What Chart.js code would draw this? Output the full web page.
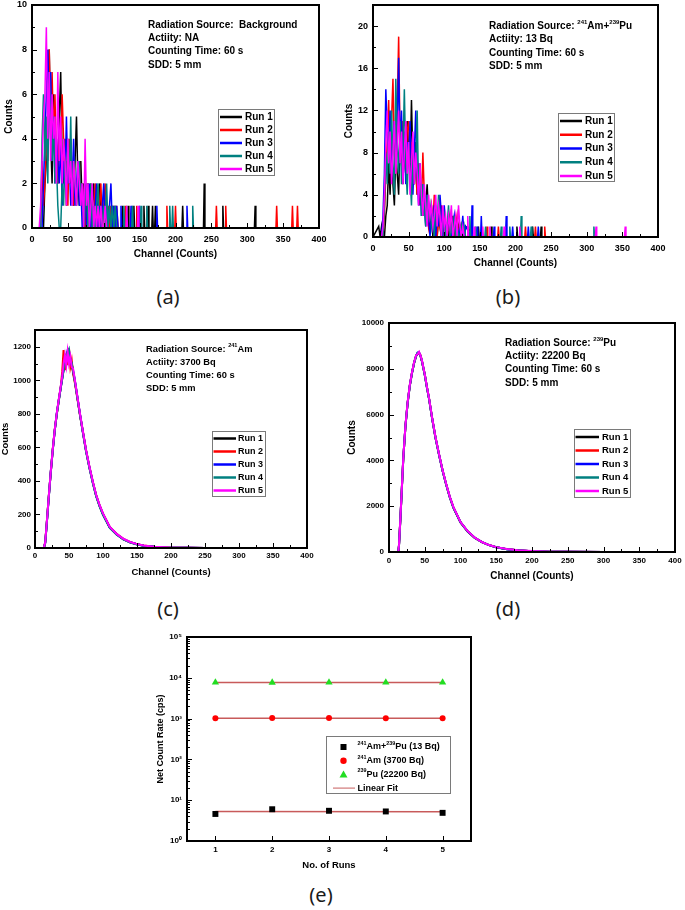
<!DOCTYPE html>
<html lang="en">
<head>
<meta charset="UTF-8">
<title>Detector spectra and count rates</title>
<script src="https://cdn.jsdelivr.net/npm/chart.js"></script>
<style>
  html, body { margin: 0; padding: 0; background: #fff; }
  #page { position: relative; width: 685px; height: 910px; overflow: hidden; }
  canvas { position: absolute; }
  .cap { position: absolute; font-family: 'Noto Sans', sans-serif; font-size: 20px; color: #1a1a1a; transform: translate(-50%, -50%); }
</style>
</head>
<body>
<div id="page">
  <canvas id="chartA" width="330" height="262" style="left:0px;top:0px"></canvas>
  <canvas id="chartB" width="340" height="270" style="left:340px;top:0px"></canvas>
  <canvas id="chartC" width="320" height="262" style="left:0px;top:318px"></canvas>
  <canvas id="chartD" width="340" height="272" style="left:345px;top:313px"></canvas>
  <canvas id="chartE" width="340" height="250" style="left:145px;top:625px"></canvas>
  <div class="cap" style="left:168px;top:296px">(a)</div>
  <div class="cap" style="left:508px;top:296px">(b)</div>
  <div class="cap" style="left:168px;top:608px">(c)</div>
  <div class="cap" style="left:508px;top:608px">(d)</div>
  <div class="cap" style="left:321px;top:894px">(e)</div>
</div>

<script>
  const FONT = "'Liberation Sans', Arial, sans-serif";
  const runNames = ['Run 1', 'Run 2', 'Run 3', 'Run 4', 'Run 5'];
  const runColors = ['#000000', '#ff0000', '#0000ff', '#008080', '#ff00ff'];
  const channelTicks = [0, 50, 100, 150, 200, 250, 300, 350, 400];

  // (a) background: counts every 2 channels from channel 10, then isolated counts [channel, counts]
  const bgStart = 10, bgStep = 2;
  const bgRun1 = [0,0,0,0,2,3,5,8,4,2, 6,3,4,2,5,7,3,2,4,1, 3,2,4,2,1,3,5,2,1,3, 1,2,0,1,2,1,0,1,2,0, 1,0,2,1,0,1,0,1,0,1, 0,1,0,1,0,0];
  const bgRun2 = [0,0,3,1,2,4,3,8,5,7, 4,6,3,2,4,3,6,4,2,3, 1,4,2,3,1,2,1,2,3,1, 2,1,0,2,1,0,2,1,0,2, 1,0,1,2,0,1,2,0,1,0, 1,0,1,0,1,0];
  const bgRun3 = [0,0,0,2,4,6,8,5,7,3, 5,2,4,3,2,4,1,3,2,5, 2,3,1,2,4,1,2,3,1,2, 0,1,2,0,1,2,0,1,0,1, 2,0,1,0,1,2,0,1,0,1, 2,0,1,0,1,0];
  const bgRun4 = [0,0,4,6,3,5,2,7,4,3, 5,2,3,1,0,0,2,1,3,2, 4,2,5,1,3,2,1,2,3,1, 2,0,1,2,0,1,2,0,1,0, 1,2,0,1,0,1,0,2,0,1, 0,1,0,1,0,0];
  const bgRun5 = [0,1,3,5,6,9,4,7,3,6, 4,5,2,7,3,5,2,4,3,1, 4,2,3,1,3,2,1,3,2,1, 2,0,4,1,2,0,1,2,0,1, 0,1,0,1,0,0,1,0,0,0, 0,0,0,0,0,0];
  const bgTail1 = [[126,1],[134,1],[142,1],[156,1],[162,1],[168,1],[172,1],[210,1],[240,2],[266,1],[311,1]];
  const bgTail2 = [[130,1],[146,1],[188,1],[200,1],[257,1],[270,1],[341,1],[363,1],[370,1]];
  const bgTail3 = [[124,1],[138,1],[150,1],[174,1],[216,1]];
  const bgTail4 = [[128,1],[140,1],[152,1],[160,1],[192,1],[196,1],[224,1]];
  const bgTail5 = [[132,1],[148,1]];

  // (b) 241Am+239Pu, 13 Bq: counts every 2 channels from channel 8
  const mixStart = 8, mixStep = 2;
  const mixRun1 = [1,0,1,0,0,2,3,7,4,9, 5,3,8,6,4,10,7,5,9,6, 11,8,6,13,7,5,9,4,6,3, 5,2,4,3,5,2,1,3,0,2, 1,0,2,1,0,1,2,0,1,0, 1,0,2,0,1,0,1,0,1,0, 0,1];
  const mixRun2 = [0,0,0,0,2,6,9,13,7,11, 15,8,6,12,19,9,7,11,8,6, 10,11,7,9,5,8,6,4,7,5, 3,8,4,2,3,1,2,3,1,4, 2,0,2,1,3,0,2,1,0,1, 2,0,1,0,1,2,0,1,0,1, 0,0];
  const mixRun3 = [0,0,0,2,6,14,10,8,12,6, 9,11,7,10,17,8,12,6,10,5, 9,7,11,6,4,8,12,6,3,7, 2,5,3,1,4,2,0,2,1,3, 0,2,1,4,2,0,3,1,0,2, 1,0,1,2,0,1,0,1,0,2, 0,1];
  const mixRun4 = [0,0,0,0,3,8,5,10,6,12, 7,4,15,9,6,11,5,8,14,7, 4,9,6,3,8,5,7,12,4,6, 2,5,3,1,4,2,3,1,2,0, 3,1,4,2,0,1,2,0,1,3, 0,1,0,2,0,1,0,0,1,0, 1,0];
  const mixRun5 = [0,0,0,1,4,9,12,7,10,5, 8,11,6,9,12,7,10,5,8,11, 6,9,4,7,10,5,8,6,3,7, 4,2,5,3,1,4,2,3,1,2, 4,1,3,2,0,3,1,2,0,2, 1,3,0,1,2,0,3,1,0,1, 0,0];
  const mixTail1 = [[148,1],[166,1],[202,1],[224,1],[236,1]];
  const mixTail2 = [[134,1],[160,1],[176,1],[214,1],[228,1],[241,1]];
  const mixTail3 = [[139,3],[146,1],[152,2],[170,1],[187,2],[196,1],[218,1],[232,1]];
  const mixTail4 = [[136,2],[144,1],[158,1],[180,1],[192,1],[208,2],[222,1],[310,1]];
  const mixTail5 = [[133,2],[142,1],[154,1],[164,1],[184,1],[206,1],[313,1],[354,1]];

  // (c) 241Am, 3700 Bq
  const amCh = [0,13,15,17,20,23,26,29,32,35,38,40,42,44,46,48,50,52,54,56,58,60,63,66,70,75,80,85,90,95,100,110,120,130,140,150,160,175,190,200,225,250,400];
  const amRun1 = [0,0,30,130,290,445,580,700,800,885,960,1010,1065,1110,1150,1170,1140,1120,1100,1050,1010,960,880,800,700,580,480,390,310,250,200,122,80,52,34,22,14,7,3,2,1,0,0];
  const amRun2 = [0,0,35,135,295,440,585,705,795,880,965,1050,1180,1060,1160,1090,1190,1080,1120,1040,1000,950,875,795,705,585,485,395,315,255,205,125,85,55,35,23,15,8,4,2,1,0,0];
  const amRun3 = [0,0,30,128,288,442,578,698,802,882,958,1012,1062,1120,1140,1180,1150,1130,1090,1060,1015,962,882,802,702,582,482,392,312,252,202,122,82,53,34,22,14,7,3,2,1,0,0];
  const amRun4 = [0,0,32,132,292,446,582,702,798,878,962,1008,1058,1108,1145,1165,1185,1125,1105,1055,1012,958,878,798,698,578,478,388,308,248,198,120,80,52,33,21,13,7,3,2,1,0,0];
  const amRun5 = [0,0,34,134,294,448,584,704,804,888,968,1020,1100,1150,1090,1170,1100,1140,1080,1070,1020,966,886,806,706,586,486,396,316,256,206,126,84,55,36,23,15,8,4,2,1,0,0];

  // (d) 239Pu, 22200 Bq
  const puCh = [0,5,13,14,16,18,20,23,26,29,32,35,38,40,42,44,46,48,50,53,56,60,65,70,75,80,85,90,100,110,120,130,140,150,165,180,200,225,250,300,400];
  const puRun1 = [0,0,0,280,1480,2780,4080,5480,6480,7230,7780,8230,8560,8650,8720,8560,8330,8030,7740,7190,6690,5890,4990,4240,3540,2940,2390,1940,1290,895,615,428,298,208,124,74,37,15,6,1,0];
  const puRun2 = [0,0,0,310,1510,2810,4110,5510,6510,7260,7810,8260,8590,8690,8680,8600,8360,8060,7760,7210,6710,5910,5010,4260,3560,2960,2410,1960,1305,905,622,432,302,211,126,76,38,15,6,1,0];
  const puRun3 = [0,0,0,300,1500,2800,4100,5500,6500,7250,7800,8250,8580,8710,8700,8580,8350,8050,7750,7200,6700,5900,5000,4250,3550,2950,2400,1950,1300,900,620,430,300,210,125,75,38,15,6,1,0];
  const puRun4 = [0,0,0,295,1495,2795,4095,5495,6495,7245,7795,8245,8575,8700,8695,8575,8345,8045,7745,7195,6695,5895,4995,4245,3545,2945,2395,1945,1298,898,618,429,299,209,125,75,38,15,6,1,0];
  const puRun5 = [0,0,0,320,1520,2820,4120,5520,6520,7270,7820,8270,8600,8640,8740,8590,8370,8070,7770,7220,6720,5920,5020,4270,3570,2970,2420,1970,1310,910,625,435,303,212,127,76,39,16,6,1,0];

  // (e) net count rate per run (cps)
  const runNo = [1, 2, 3, 4, 5];
  const rateMix = [4.6, 6.0, 5.5, 5.3, 4.9];
  const rateAm = [1025, 1030, 1030, 1025, 1025];
  const ratePu = [7700, 7650, 7700, 7680, 7700];
  const fitX = [1, 5];
  const fitMix = [5.3, 5.2];
  const fitAm = [1027, 1027];
  const fitPu = [7690, 7690];
  const logTicks = [1, 10, 100, 1000, 10000, 100000];
  const SUP = ['⁰', '¹', '²', '³', '⁴', '⁵'];

  // ---------- helpers ----------
  function spectrum(start, step, dense, tail) {
    const pts = [{x: 0, y: 0}];
    dense.forEach((v, i) => pts.push({x: start + i * step, y: v}));
    tail.forEach(([c, n]) => pts.push({x: c - 1, y: 0}, {x: c, y: n}, {x: c + 1, y: 0}));
    pts.push({x: 400, y: 0});
    return pts;
  }
  function curve(ch, vals) {
    return ch.map((c, i) => ({x: c, y: vals[i]}));
  }
  function runSets(series, width) {
    return series.map((pts, i) => ({
      label: runNames[i], data: pts, borderColor: runColors[i], borderWidth: width,
      pointRadius: 0, fill: false, tension: 0, order: series.length - 1 - i
    }));
  }

  function axis(o) {
    return {
      type: o.type || 'linear', min: o.min, max: o.max,
      grid: {display: false, drawTicks: false},
      border: {display: false},
      ticks: {
        color: '#000', autoSkip: false, maxRotation: 0, padding: o.tickPad,
        font: {family: FONT, size: o.tickSize, weight: 'bold'},
        callback: o.fmt || (v => String(v))
      },
      title: {
        display: true, text: o.title, color: '#000', padding: o.titlePad,
        font: {family: FONT, size: o.titleSize, weight: 'bold'}
      },
      afterBuildTicks: s => { s.ticks = o.ticks.map(v => ({value: v})); },
      afterFit: s => {
        if (o.width != null) s.width = o.width;
        if (o.height != null) s.height = o.height;
        s.paddingLeft = s.paddingRight = s.paddingTop = s.paddingBottom = 0;
      }
    };
  }

  function richText(ctx, segs, x, y, size) {
    ctx.fillStyle = '#000';
    ctx.textBaseline = 'middle';
    ctx.textAlign = 'left';
    segs.forEach(s => {
      const sup = typeof s === 'object';
      const txt = sup ? s.sup : s;
      const fs = sup ? size * 0.6 : size;
      ctx.font = 'bold ' + fs + 'px ' + FONT;
      ctx.fillText(txt, x, sup ? y - size * 0.38 : y);
      x += ctx.measureText(txt).width;
    });
  }

  // box frame with inward ticks on bottom and left axes
  function frame(cfg) {
    return {
      id: 'frame',
      afterDatasetsDraw(chart) {
        const {ctx, chartArea: a, scales: {x, y}} = chart;
        ctx.save();
        ctx.strokeStyle = '#000';
        ctx.lineWidth = 1;
        const xv = x.ticks.map(t => t.value), yv = y.ticks.map(t => t.value);
        const mark = (px, len, horiz) => {
          ctx.beginPath();
          if (horiz) { ctx.moveTo(px, a.bottom); ctx.lineTo(px, a.bottom - len); }
          else { ctx.moveTo(a.left, px); ctx.lineTo(a.left + len, px); }
          ctx.stroke();
        };
        xv.forEach(v => mark(Math.round(x.getPixelForValue(v)) + 0.5, 5, true));
        if (cfg.xMinor) xv.slice(1).forEach((v, i) => mark(Math.round(x.getPixelForValue((v + xv[i]) / 2)) + 0.5, 3, true));
        yv.forEach(v => mark(Math.round(y.getPixelForValue(v)) + 0.5, 5, false));
        if (cfg.yMinor === 'mid') yv.slice(1).forEach((v, i) => mark(Math.round(y.getPixelForValue((v + yv[i]) / 2)) + 0.5, 3, false));
        if (cfg.yMinor === 'log') yv.slice(0, -1).forEach(v => {
          for (let m = 2; m < 10; m++) mark(Math.round(y.getPixelForValue(v * m)) + 0.5, 3, false);
        });
        ctx.lineWidth = 2;
        ctx.strokeRect(a.left, a.top, a.right - a.left, a.bottom - a.top);
        ctx.restore();
      }
    };
  }

  function note(lines, cfg) {
    return {
      id: 'note',
      afterDatasetsDraw(chart) {
        const {ctx, chartArea: a} = chart;
        ctx.save();
        lines.forEach((segs, i) => richText(ctx, segs, a.left + cfg.dx, a.top + cfg.dy + i * cfg.gap, cfg.size));
        ctx.restore();
      }
    };
  }

  function key(items, cfg) {
    return {
      id: 'key',
      afterDatasetsDraw(chart) {
        const {ctx, chartArea: a} = chart;
        const bx = a.left + cfg.dx, by = a.top + cfg.dy;
        ctx.save();
        ctx.fillStyle = '#fff';
        ctx.fillRect(bx, by, cfg.w, cfg.h);
        ctx.strokeStyle = '#7a7a7a';
        ctx.lineWidth = 1;
        ctx.strokeRect(Math.round(bx) + 0.5, Math.round(by) + 0.5, cfg.w, cfg.h);
        items.forEach((it, i) => {
          const ry = by + cfg.row0 + i * cfg.gap;
          ctx.fillStyle = it.color;
          ctx.strokeStyle = it.color;
          if (it.mark === 'line') {
            ctx.lineWidth = it.width || 2.5;
            ctx.beginPath(); ctx.moveTo(bx + cfg.l0, ry); ctx.lineTo(bx + cfg.l1, ry); ctx.stroke();
          } else if (it.mark === 'rect') {
            ctx.fillRect(bx + cfg.mx - 3, ry - 3, 6, 6);
          } else if (it.mark === 'circle') {
            ctx.beginPath(); ctx.arc(bx + cfg.mx, ry, 3.2, 0, Math.PI * 2); ctx.fill();
          } else if (it.mark === 'triangle') {
            ctx.beginPath(); ctx.moveTo(bx + cfg.mx, ry - 4); ctx.lineTo(bx + cfg.mx + 4, ry + 3); ctx.lineTo(bx + cfg.mx - 4, ry + 3); ctx.closePath(); ctx.fill();
          }
          richText(ctx, it.text, bx + cfg.tx, ry, cfg.size);
        });
        ctx.restore();
      }
    };
  }

  const runKey = runNames.map((n, i) => ({text: [n], color: runColors[i], mark: 'line'}));
  const baseOpts = (pad) => ({
    responsive: false, animation: false, events: [],
    layout: {padding: pad},
    plugins: {legend: {display: false}, tooltip: {enabled: false}}
  });

  // ---------- (a) ----------
  new Chart(document.getElementById('chartA'), {
    type: 'line',
    data: {datasets: runSets([
      spectrum(bgStart, bgStep, bgRun1, bgTail1), spectrum(bgStart, bgStep, bgRun2, bgTail2),
      spectrum(bgStart, bgStep, bgRun3, bgTail3), spectrum(bgStart, bgStep, bgRun4, bgTail4),
      spectrum(bgStart, bgStep, bgRun5, bgTail5)], 1.5)},
    options: Object.assign(baseOpts({top: 5, right: 11, left: 0, bottom: 0}), {
      scales: {
        x: axis({min: 0, max: 400, ticks: channelTicks, title: 'Channel (Counts)', tickSize: 9, tickPad: 6, titleSize: 10, titlePad: {top: 0, bottom: 2}, height: 34}),
        y: axis({min: 0, max: 10, ticks: [0, 2, 4, 6, 8, 10], title: 'Counts', tickSize: 9, tickPad: 5, titleSize: 10, titlePad: {top: 3, bottom: 0}, width: 32})
      }
    }),
    plugins: [frame({xMinor: true, yMinor: 'mid'}),
      note([['Radiation Source:  Background'], ['Actiity: NA'], ['Counting Time: 60 s'], ['SDD: 5 mm']], {dx: 116, dy: 20, gap: 13.3, size: 10}),
      key(runKey, {dx: 186, dy: 104, w: 56, h: 66, row0: 8, gap: 13, l0: 2, l1: 24, tx: 27, size: 10})]
  });

  // ---------- (b) ----------
  new Chart(document.getElementById('chartB'), {
    type: 'line',
    data: {datasets: runSets([
      spectrum(mixStart, mixStep, mixRun1, mixTail1), spectrum(mixStart, mixStep, mixRun2, mixTail2),
      spectrum(mixStart, mixStep, mixRun3, mixTail3), spectrum(mixStart, mixStep, mixRun4, mixTail4),
      spectrum(mixStart, mixStep, mixRun5, mixTail5)], 1.5)},
    options: Object.assign(baseOpts({top: 5, right: 22, left: 0, bottom: 0}), {
      scales: {
        x: axis({min: 0, max: 400, ticks: channelTicks, title: 'Channel (Counts)', tickSize: 9, tickPad: 6, titleSize: 10, titlePad: {top: 0, bottom: 1}, height: 33}),
        y: axis({min: 0, max: 22, ticks: [0, 4, 8, 12, 16, 20], title: 'Counts', tickSize: 9, tickPad: 5, titleSize: 10, titlePad: {top: 3, bottom: 0}, width: 33})
      }
    }),
    plugins: [frame({xMinor: true, yMinor: 'mid'}),
      note([['Radiation Source: ', {sup: '241'}, 'Am+', {sup: '239'}, 'Pu'], ['Actiity: 13 Bq'], ['Counting Time: 60 s'], ['SDD: 5 mm']], {dx: 116, dy: 21, gap: 13.5, size: 10}),
      key(runKey, {dx: 185, dy: 108, w: 56, h: 68, row0: 8, gap: 13.75, l0: 2, l1: 24, tx: 27, size: 10})]
  });

  // ---------- (c) ----------
  new Chart(document.getElementById('chartC'), {
    type: 'line',
    data: {datasets: runSets([
      curve(amCh, amRun1), curve(amCh, amRun2), curve(amCh, amRun3), curve(amCh, amRun4), curve(amCh, amRun5)], 2)},
    options: Object.assign(baseOpts({top: 12, right: 13, left: 0, bottom: 0}), {
      scales: {
        x: axis({min: 0, max: 400, ticks: channelTicks, title: 'Channel (Counts)', tickSize: 8, tickPad: 3, titleSize: 9.5, titlePad: {top: 0, bottom: 2}, height: 32}),
        y: axis({min: 0, max: 1300, ticks: [0, 200, 400, 600, 800, 1000, 1200], title: 'Counts', tickSize: 8, tickPad: 4, titleSize: 9.5, titlePad: {top: 0, bottom: 0}, width: 35})
      }
    }),
    plugins: [frame({xMinor: true, yMinor: 'mid'}),
      note([['Radiation Source: ', {sup: '241'}, 'Am'], ['Actiity: 3700 Bq'], ['Counting Time: 60 s'], ['SDD: 5 mm']], {dx: 111, dy: 19, gap: 13, size: 9.3}),
      key(runKey, {dx: 177, dy: 101, w: 53, h: 65, row0: 7.5, gap: 13, l0: 1.5, l1: 24, tx: 26, size: 9})]
  });

  // ---------- (d) ----------
  new Chart(document.getElementById('chartD'), {
    type: 'line',
    data: {datasets: runSets([
      curve(puCh, puRun1), curve(puCh, puRun2), curve(puCh, puRun3), curve(puCh, puRun4), curve(puCh, puRun5)], 2)},
    options: Object.assign(baseOpts({top: 10, right: 10, left: 0, bottom: 0}), {
      scales: {
        x: axis({min: 0, max: 400, ticks: channelTicks, title: 'Channel (Counts)', tickSize: 8, tickPad: 4, titleSize: 10, titlePad: {top: 0, bottom: 3}, height: 33}),
        y: axis({min: 0, max: 10000, ticks: [0, 2000, 4000, 6000, 8000, 10000], title: 'Counts', tickSize: 8, tickPad: 5, titleSize: 10, titlePad: {top: 1, bottom: 0}, width: 44})
      }
    }),
    plugins: [frame({xMinor: true, yMinor: 'mid'}),
      note([['Radiation Source: ', {sup: '239'}, 'Pu'], ['Actiity: 22200 Bq'], ['Counting Time: 60 s'], ['SDD: 5 mm']], {dx: 116, dy: 20, gap: 13.3, size: 10}),
      key(runKey, {dx: 185, dy: 106, w: 56, h: 68, row0: 8, gap: 13.5, l0: 1.5, l1: 25, tx: 28, size: 9.5})]
  });

  // ---------- (e) ----------
  const fitColor = '#c85a5a';
  const pts = (xs, ys) => xs.map((x, i) => ({x, y: ys[i]}));
  new Chart(document.getElementById('chartE'), {
    type: 'line',
    data: {datasets: [
      {label: '241Am+239Pu (13 Bq)', data: pts(runNo, rateMix), showLine: false, pointStyle: 'rect', pointRadius: 4.2, backgroundColor: '#000', borderColor: '#000', borderWidth: 0, order: 0},
      {label: '241Am (3700 Bq)', data: pts(runNo, rateAm), showLine: false, pointStyle: 'circle', pointRadius: 3, backgroundColor: '#ff0000', borderColor: '#ff0000', borderWidth: 0, order: 0},
      {label: '239Pu (22200 Bq)', data: pts(runNo, ratePu), showLine: false, pointStyle: 'triangle', pointRadius: 4.2, backgroundColor: '#22dd22', borderColor: '#22dd22', borderWidth: 0, order: 0},
      {label: 'Linear Fit', data: pts(fitX, fitMix), borderColor: fitColor, borderWidth: 1.5, pointRadius: 0, order: 1},
      {label: 'Linear Fit', data: pts(fitX, fitAm), borderColor: fitColor, borderWidth: 1.5, pointRadius: 0, order: 1},
      {label: 'Linear Fit', data: pts(fitX, fitPu), borderColor: fitColor, borderWidth: 1.5, pointRadius: 0, order: 1}
    ]},
    options: Object.assign(baseOpts({top: 12, right: 14, left: 0, bottom: 0}), {
      scales: {
        x: axis({min: 0.5, max: 5.5, ticks: runNo, title: 'No. of Runs', tickSize: 8, tickPad: 4, titleSize: 9.5, titlePad: {top: 0, bottom: 4}, height: 34}),
        y: axis({type: 'logarithmic', min: 1, max: 100000, ticks: logTicks, title: 'Net Count Rate (cps)', tickSize: 8, tickPad: 5, titleSize: 9, titlePad: {top: 10, bottom: 0}, width: 42,
          fmt: v => '10' + SUP[Math.round(Math.log10(v))]})
      }
    }),
    plugins: [frame({xMinor: false, yMinor: 'log'}),
      key([
        {text: [{sup: '241'}, 'Am+', {sup: '239'}, 'Pu (13 Bq)'], color: '#000', mark: 'rect'},
        {text: [{sup: '241'}, 'Am (3700 Bq)'], color: '#ff0000', mark: 'circle'},
        {text: [{sup: '239'}, 'Pu (22200 Bq)'], color: '#22dd22', mark: 'triangle'},
        {text: ['Linear Fit'], color: '#d07878', mark: 'line', width: 1.2}
      ], {dx: 139, dy: 99, w: 124, h: 57, row0: 11, gap: 13.7, l0: 7, l1: 29, mx: 17.5, tx: 31.5, size: 9})]
  });
</script>
</body>
</html>
